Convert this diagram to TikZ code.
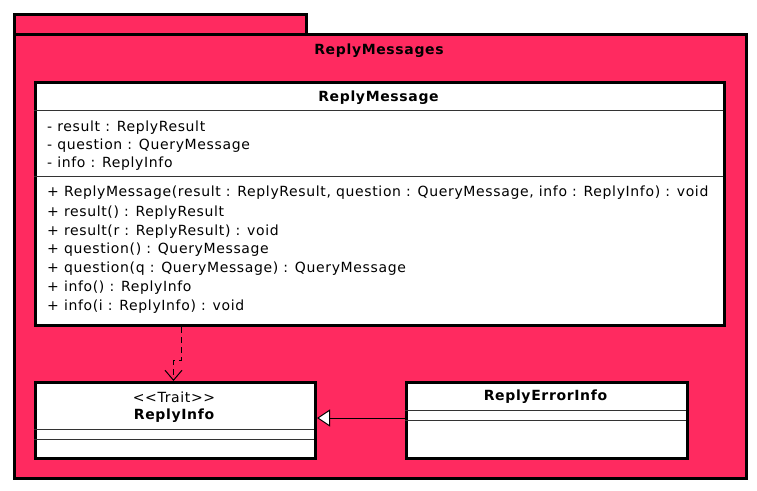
\documentclass[tikz,border=0pt]{standalone}
\usepackage{fontspec}
\setmainfont{DejaVu Sans}
\newfontfamily\umlfont[LetterSpace=4.6]{DejaVu Sans}
\usetikzlibrary{arrows.meta}
\definecolor{pkgfill}{RGB}{255,42,96}
\tikzset{
  pkgbox/.style={draw=black, line width=3pt, fill=pkgfill, anchor=north west, inner sep=0pt},
  classbox/.style={draw=black, line width=3pt, fill=white, anchor=north west, inner sep=0pt},
  sepline/.style={line width=1pt, draw=black!80},
  member/.style={anchor=west, inner sep=0pt, yshift=-1pt, font=\umlfont\fontsize{14}{16}\selectfont},
  ctitle/.style={anchor=center, inner sep=0pt, yshift=-1pt, font=\umlfont\fontsize{14}{16}\selectfont\bfseries},
  stereo/.style={anchor=center, inner sep=0pt, yshift=-1pt, font=\umlfont\fontsize{14}{16}\selectfont},
  depend/.style={line width=1pt, dash pattern=on 6pt off 4pt, -{Straight Barb[length=10pt,width=17pt,line width=1pt]}},
  general/.style={line width=1pt, -{Triangle[open,length=13pt,width=17pt,line width=1pt,fill=white]}},
}
\begin{document}
\begin{tikzpicture}[x=1pt,y=-1pt]
\useasboundingbox (0,0) rectangle (757,490);
% package
\node[pkgbox, minimum width=292pt, minimum height=20pt] (tab) at (13,13) {};
\node[pkgbox, minimum width=732pt, minimum height=444pt] (pkg) at (13,33) {};
\node[ctitle] (pkgname) at (379,50) {ReplyMessages};
% ReplyMessage
\node[classbox, minimum width=689pt, minimum height=243pt] (rm) at (34,81) {};
\node[ctitle] (rmname) at (378.5,97) {ReplyMessage};
\draw[sepline] (34,110) -- (723,110);
\node[member] (a1) at (47,127) {- result : ReplyResult};
\node[member] (a2) at (47,145) {- question : QueryMessage};
\node[member] (a3) at (47,163) {- info : ReplyInfo};
\draw[sepline] (34,176) -- (723,176);
\node[member] (m1) at (47,192) {+ ReplyMessage(result : ReplyResult, question : QueryMessage, info : ReplyInfo) : void};
\node[member] (m2) at (47,212) {+ result() : ReplyResult};
\node[member] (m3) at (47,231) {+ result(r : ReplyResult) : void};
\node[member] (m4) at (47,249) {+ question() : QueryMessage};
\node[member] (m5) at (47,268) {+ question(q : QueryMessage) : QueryMessage};
\node[member] (m6) at (47,287) {+ info() : ReplyInfo};
\node[member] (m7) at (47,306) {+ info(i : ReplyInfo) : void};
% ReplyInfo
\node[classbox, minimum width=280pt, minimum height=76pt] (ri) at (34,381) {};
\node[stereo] (ristereo) at (174,396) {{<}{<}Trait{>}{>}};
\node[ctitle] (riname) at (174,415) {ReplyInfo};
\draw[sepline] (34,429) -- (314,429);
\draw[sepline] (34,439) -- (314,439);
% ReplyErrorInfo
\node[classbox, minimum width=281pt, minimum height=76pt] (rei) at (405,381) {};
\node[ctitle] (reiname) at (545.5,396) {ReplyErrorInfo};
\draw[sepline] (405,410) -- (686,410);
\draw[sepline] (405,420) -- (686,420);
% connectors
\coordinate (d1) at (181.5,360);
\coordinate (d2) at (173.5,360);
\draw[depend] (rm.south -| d1) -- (d1) -- (d2) -- (ri.north -| d2);
\draw[general] (rei.west |- 0,418) -- (ri.east |- 0,418);
\end{tikzpicture}
\end{document}
